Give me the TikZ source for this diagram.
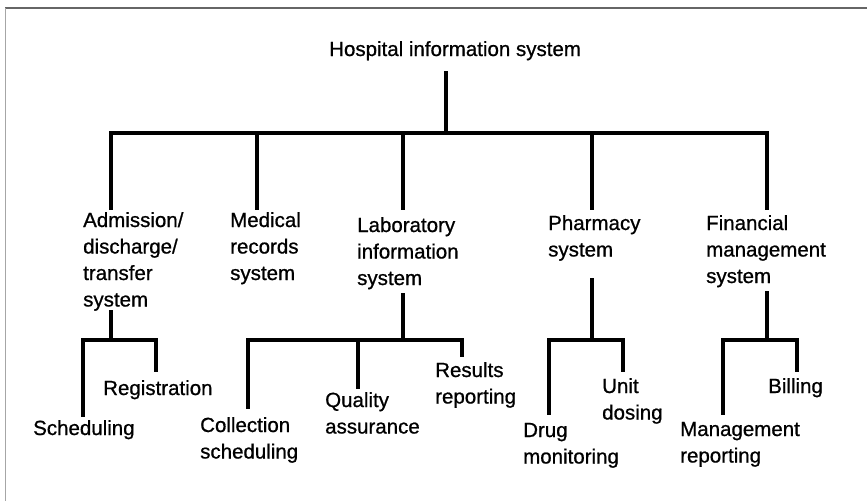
\documentclass[tikz,border=0pt]{standalone}
\usepackage{fontspec}
\setmainfont{Liberation Sans}[BoldFont={Liberation Sans},BoldFeatures={FakeBold=0.8}]
\newcommand\mlines[1]{\begin{tabular}[t]{@{}l@{}}#1\end{tabular}}
\begin{document}
\begin{tikzpicture}[x=1pt,y=-1pt,
  lbl/.style={anchor=base west,inner sep=0pt,font=\fontsize{20.5}{26.5}\selectfont\bfseries},
  tree/.style={line width=3.1pt,line join=miter,line cap=rect}]
\useasboundingbox (0,0) rectangle (867,501);
\fill[white] (0,0) rectangle (867,501);
% frame
\draw[line width=2pt,black!60] (5,8) -- (867,8);
\draw[line width=1pt,black!35] (5.5,8) -- (5.5,501);

% labels
\node[lbl] (root) at (329,56) {Hospital information system};
\node[lbl] (adt) at (83,227) {\mlines{Admission/\\discharge/\\transfer\\system}};
\node[lbl] (med) at (230,227) {\mlines{Medical\\records\\system}};
\node[lbl] (lab) at (357,232) {\mlines{Laboratory\\information\\system}};
\node[lbl] (pha) at (548,230) {\mlines{Pharmacy\\system}};
\node[lbl] (fin) at (706,230) {\mlines{Financial\\management\\system}};
\node[lbl] (reg) at (103,395) {Registration};
\node[lbl] (sch) at (33,435) {Scheduling};
\node[lbl] (col) at (200,432) {\mlines{Collection\\scheduling}};
\node[lbl] (qua) at (325,407) {\mlines{Quality\\assurance}};
\node[lbl] (res) at (435,377) {\mlines{Results\\reporting}};
\node[lbl] (uni) at (602,393) {\mlines{Unit\\dosing}};
\node[lbl] (dru) at (523,437) {\mlines{Drug\\monitoring}};
\node[lbl] (bil) at (768,393) {Billing};
\node[lbl] (mgm) at (680,436) {\mlines{Management\\reporting}};

% connector end points
\coordinate (rootout) at (446,73);
\coordinate (hub) at (446,133);
\coordinate (adtin) at (111,208);
\coordinate (medin) at (257,208);
\coordinate (labin) at (403,208);
\coordinate (phain) at (592,208);
\coordinate (finin) at (767,208);
\coordinate (adtout) at (111,312);
\coordinate (labout) at (403,295);
\coordinate (phaout) at (592,280);
\coordinate (finout) at (767,293);
\coordinate (regin) at (156,370);
\coordinate (schin) at (83,415);
\coordinate (colin) at (248,407);
\coordinate (quain) at (358,387);
\coordinate (resin) at (462,355);
\coordinate (uniin) at (623,370);
\coordinate (druin) at (549,413);
\coordinate (bilin) at (797,370);
\coordinate (mgmin) at (723,413);

% top level
\draw[tree] (rootout) -- (hub);
\draw[tree] (adtin) -- (adtin |- hub) -- (finin |- hub) -- (finin);
\draw[tree] (medin |- hub) -- (medin);
\draw[tree] (labin |- hub) -- (labin);
\draw[tree] (phain |- hub) -- (phain);

% admission subtree
\draw[tree] (adtout) -- ++(0,28);
\draw[tree] (schin) -- (schin |- 0,340) -- (regin |- 0,340) -- (regin);
% laboratory subtree
\draw[tree] (labout) -- (labout |- 0,340);
\draw[tree] (colin) -- (colin |- 0,340) -- (resin |- 0,340) -- (resin);
\draw[tree] (quain |- 0,340) -- (quain);
% pharmacy subtree
\draw[tree] (phaout) -- (phaout |- 0,340);
\draw[tree] (druin) -- (druin |- 0,340) -- (uniin |- 0,340) -- (uniin);
% financial subtree
\draw[tree] (finout) -- (finout |- 0,340);
\draw[tree] (mgmin) -- (mgmin |- 0,340) -- (bilin |- 0,340) -- (bilin);
\end{tikzpicture}
\end{document}
